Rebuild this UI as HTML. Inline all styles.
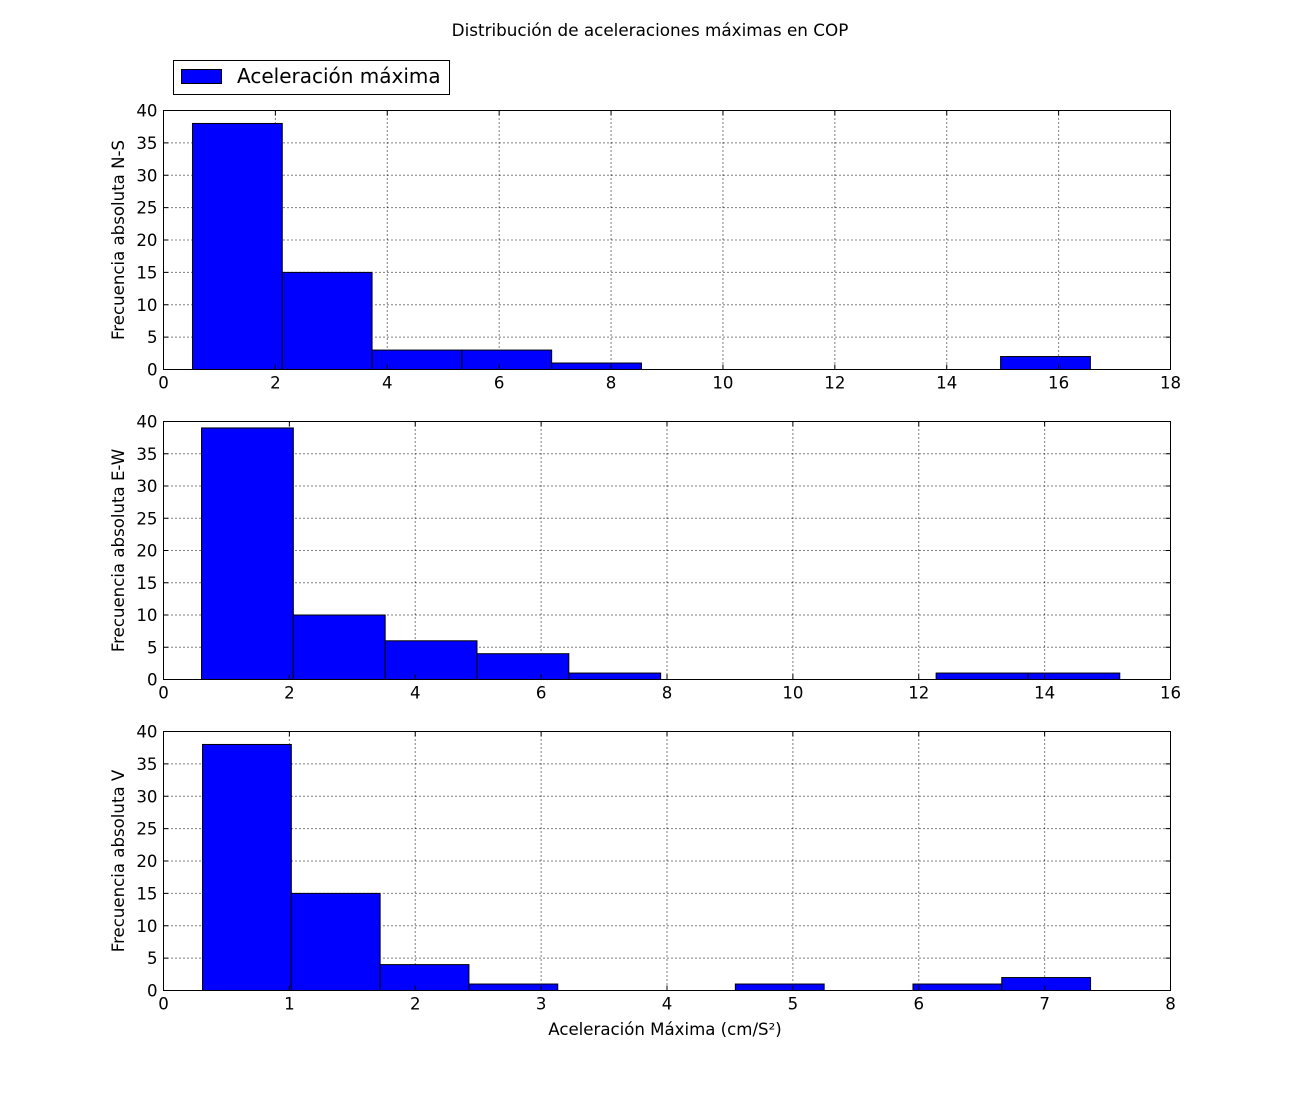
<!DOCTYPE html>
<html><head><meta charset="utf-8">
<style>
body{margin:0;background:#fff;}
svg{display:block;font-family:"DejaVu Sans","Liberation Sans",sans-serif;}
</style></head>
<body>
<svg id="fig" width="1300" height="1100">
<rect width="1300" height="1100" fill="#fff"/>
<text x="650" y="36" text-anchor="middle" font-size="16.8">Distribución de aceleraciones máximas en COP</text>
<g>
<rect x="173.5" y="60.5" width="276" height="34" fill="#fff" stroke="#000"/>
<rect x="181.5" y="69.5" width="40" height="14" fill="#0000ff" stroke="#000"/>
<text x="237" y="83" font-size="20">Aceleración máxima</text>
</g>
<text x="665" y="1035" text-anchor="middle" font-size="16.6">Aceleración Máxima (cm/S²)</text>
</svg>
<script>
const nsCounts = [38,15,3,3,1,0,0,0,0,2];
const nsStart = 0.518, nsWidth = 1.605;
const nsXTicks = [0,2,4,6,8,10,12,14,16,18];
const ewCounts = [39,10,6,4,1,0,0,0,1,1];
const ewStart = 0.604, ewWidth = 1.459;
const ewXTicks = [0,2,4,6,8,10,12,14,16];
const vCounts = [38,15,4,1,0,0,1,0,1,2];
const vStart = 0.31, vWidth = 0.7055;
const vXTicks = [0,1,2,3,4,5,6,7,8];
const yTicks = [0,5,10,15,20,25,30,35,40];

const NS = 'http://www.w3.org/2000/svg';
const svg = document.getElementById('fig');
function mk(tag, attrs, parent){const e=document.createElementNS(NS,tag);for(const k in attrs)e.setAttribute(k,attrs[k]);(parent||svg).appendChild(e);return e;}

function panel(name, top, bottom, counts, start, width, xTicks, ylabel){
  const L=163.5, R=1170.5, xmax=xTicks[xTicks.length-1];
  const g = mk('g',{});
  
  
  const xs = v => L + v/xmax*(R-L);
  const ys = v => bottom - v/40*(bottom-top);
  xTicks.forEach(t=>{ if(t>0&&t<xmax){ const l=mk('line',{x1:xs(t),x2:xs(t),y1:top,y2:bottom,stroke:'#000','stroke-dasharray':'1,3','stroke-width':1},g);
     }});
  yTicks.forEach(t=>{ if(t>0&&t<40){ const l=mk('line',{x1:L,x2:R,y1:ys(t),y2:ys(t),stroke:'#000','stroke-dasharray':'1,3','stroke-width':1},g);
     }});
  counts.forEach((c,i)=>{ if(c>0){
    const x0=xs(start+i*width), x1=xs(start+(i+1)*width);
    const r=mk('rect',{x:x0,y:ys(c),width:x1-x0,height:ys(0)-ys(c),fill:'#0000ff',stroke:'#000','stroke-width':1},g);
     }});
  const f=mk('rect',{x:L,y:top,width:R-L,height:bottom-top,fill:'none',stroke:'#000','stroke-width':1},g);
   
  xTicks.forEach(t=>{
    mk('line',{x1:xs(t),x2:xs(t),y1:bottom,y2:bottom-5,stroke:'#000'},g);
    mk('line',{x1:xs(t),x2:xs(t),y1:top,y2:top+5,stroke:'#000'},g);
    const tx=mk('text',{x:xs(t),y:bottom+19,'text-anchor':'middle','font-size':16.6},g); tx.textContent=t;
     
  });
  yTicks.forEach(t=>{
    mk('line',{x1:L,x2:L+5,y1:ys(t),y2:ys(t),stroke:'#000'},g);
    mk('line',{x1:R,x2:R-5,y1:ys(t),y2:ys(t),stroke:'#000'},g);
    const tx=mk('text',{x:L-6,y:ys(t)+6,'text-anchor':'end','font-size':16.6},g); tx.textContent=t;
     
  });
  const yl=mk('text',{x:0,y:0,'text-anchor':'middle','font-size':16.6,transform:`translate(124,${(top+bottom)/2}) rotate(-90)`},g);
  yl.textContent=ylabel;
   
}
panel('panel-ns',110.5,369.5,nsCounts,nsStart,nsWidth,nsXTicks,'Frecuencia absoluta N-S');
panel('panel-ew',421.5,679.5,ewCounts,ewStart,ewWidth,ewXTicks,'Frecuencia absoluta E-W');
panel('panel-v',731.5,990.5,vCounts,vStart,vWidth,vXTicks,'Frecuencia absoluta V');
</script>
</body></html>
